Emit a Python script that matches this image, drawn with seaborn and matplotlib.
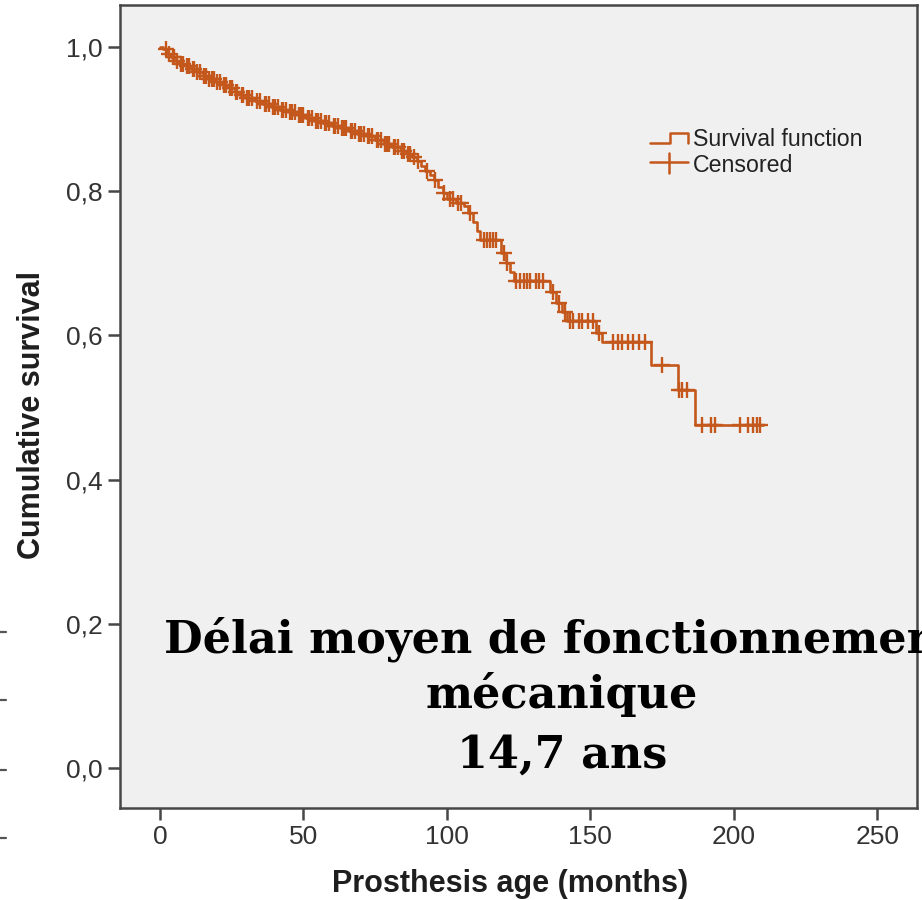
import numpy as np
import pandas as pd
import matplotlib
matplotlib.use("Agg")
import matplotlib.pyplot as plt
from matplotlib.lines import Line2D
import seaborn as sns

# Kaplan-Meier estimate: month of each failure step and survival just after it
event_months = [1, 2.5, 4, 5.5, 7, 9, 11, 13, 15, 17,
                19.5, 22, 24, 26, 28, 30, 33, 36, 39, 42,
                45, 48, 51, 54, 57, 60, 63, 66, 69, 72,
                75, 78, 81, 84, 86, 88, 89.5, 91, 92.5, 94,
                95.5, 97, 98.5, 100, 103, 106, 107.5, 109, 110.5, 111.5,
                119, 120.5, 122, 123.5, 136, 138, 140, 142, 152, 154,
                171, 180.5, 186.5]
survival = [0.997, 0.990, 0.986, 0.981, 0.977, 0.973, 0.969, 0.965, 0.960, 0.956,
            0.952, 0.948, 0.943, 0.938, 0.933, 0.929, 0.925, 0.921, 0.917, 0.913,
            0.910, 0.906, 0.902, 0.898, 0.894, 0.890, 0.887, 0.884, 0.880, 0.876,
            0.871, 0.866, 0.861, 0.856, 0.852, 0.847, 0.842, 0.835, 0.828, 0.822,
            0.815, 0.806, 0.797, 0.789, 0.784, 0.779, 0.770, 0.757, 0.745, 0.732,
            0.715, 0.700, 0.688, 0.675, 0.660, 0.645, 0.632, 0.620, 0.603, 0.591,
            0.559, 0.524, 0.476]
last_followup = 210

# Censored prostheses (months of last follow-up)
censored_months = [2, 3, 4.5, 5, 6, 7.5, 8, 9.5, 10, 11.5, 12, 13, 14, 15.5, 16, 17,
                   18, 19, 20, 21, 22.5, 23, 24.5, 25, 26.5, 27, 28.5, 29, 30.5,
                   31, 32, 34, 35, 36.5, 37, 38, 39.5, 40, 41, 42.5, 43, 44, 45.5,
                   46, 47, 48.5, 49, 50, 51.5, 52, 53, 54.5, 55, 56, 57.5, 58, 59,
                   60.5, 61, 62, 63.5, 64, 65, 66.5, 67, 68, 69.5, 70, 71, 72.5,
                   73, 74, 75.5, 76, 77, 78.5, 79, 80, 81.5, 82, 83, 84.5, 85,
                   86.5, 87, 88.5, 90, 93, 96, 99, 101, 102, 104, 105, 108, 113,
                   114, 115, 116, 117, 120, 121, 124, 125.5, 127, 128, 129, 131,
                   132, 133.5, 137, 139, 141, 143, 144, 146, 147, 149, 151, 153,
                   158, 159.5, 161, 163, 165, 167, 169, 175, 181, 182, 183.5, 189,
                   192, 193.5, 202, 205, 206.5, 208, 209]

x_ticks = [0, 50, 100, 150, 200, 250]
y_ticks = [0.0, 0.2, 0.4, 0.6, 0.8, 1.0]

CURVE = "#c4581c"
AXIS = "#474747"

sns.set_style("ticks")
plt.rcParams["font.family"] = ["Liberation Sans", "DejaVu Sans"]

curve = pd.DataFrame({
    "months": [0] + event_months + [last_followup],
    "survival": [1.0] + survival + [survival[-1]],
})
step_idx = np.searchsorted(curve["months"].to_numpy(), censored_months, side="right") - 1
cens = pd.DataFrame({
    "months": censored_months,
    "survival": curve["survival"].to_numpy()[step_idx],
})

W, H = 922, 900
fig = plt.figure(figsize=(W / 100, H / 100), dpi=100)
fig.patch.set_facecolor("white")


def fx(px):
    return px / W


def fy(py):
    return 1 - py / H


ax = fig.add_axes([fx(120), fy(808), fx(917) - fx(120), fy(5) - fy(808)])
ax.set_facecolor("#f0f0f0")

sns.lineplot(data=curve, x="months", y="survival", drawstyle="steps-post",
             color=CURVE, linewidth=1.9, estimator=None, sort=False, ax=ax)
sns.scatterplot(data=cens, x="months", y="survival", marker="+", s=140,
                linewidth=1.7, color=CURVE, ax=ax, zorder=3)

ax.set_xlim(-13.9, 263.8)
ax.set_ylim(-0.0555, 1.0583)
ax.set_xticks(x_ticks)
ax.set_xticklabels([str(v) for v in x_ticks])
ax.set_yticks(y_ticks)
ax.set_yticklabels([f"{v:.1f}".replace(".", ",") for v in y_ticks])

for side in ["left", "right", "top", "bottom"]:
    ax.spines[side].set_visible(True)
    ax.spines[side].set_color(AXIS)
    ax.spines[side].set_linewidth(1.8)
ax.tick_params(axis="both", direction="out", length=8.5, width=1.8, color=AXIS,
               labelsize=19, labelcolor="#333333", pad=4,
               top=False, right=False)

ax.set_xlabel("Prosthesis age (months)", fontsize=22, fontweight="bold", color="#1e1e1e")
ax.set_ylabel("Cumulative survival", fontsize=22, fontweight="bold", color="#1e1e1e")
ax.xaxis.set_label_coords((510 - 120) / 797, (808 - 884) / 803)
ax.xaxis.label.set_va("center")
ax.yaxis.set_label_coords((32 - 120) / 797, (808 - 415) / 803)
ax.yaxis.label.set_va("center")

# Legend drawn by hand: step icon for the survival function, cross for censoring
def fig_line(xs, ys, **kw):
    fig.add_artist(Line2D([fx(v) for v in xs], [fy(v) for v in ys],
                          transform=fig.transFigure, **kw))


fig_line([650, 670, 670, 688, 688], [142.5, 142.5, 132.5, 132.5, 143],
         color=CURVE, linewidth=1.8)
fig_line([650, 688], [162, 162], color=CURVE, linewidth=1.8)
fig_line([669, 669], [153, 173], color=CURVE, linewidth=1.8)
fig.text(fx(693), fy(146), "Survival function", fontsize=16.7, color="#222222",
         va="baseline", ha="left")
fig.text(fx(693), fy(172.5), "Censored", fontsize=16.7, color="#222222",
         va="baseline", ha="left")

# Small tick stubs on the far left edge
for py in [632, 700, 770, 838]:
    fig_line([0, 6], [py, py], color="#555555", linewidth=1.6)

# Mean mechanical lifetime annotation
serif = ["DejaVu Serif"]
for text, base in [("Délai moyen de fonctionnement", 652),
                   ("mécanique", 708),
                   ("14,7 ans", 768)]:
    fig.text(fx(562), fy(base), text, fontsize=32, fontweight="bold",
             family=serif, color="black", ha="center", va="baseline")

fig.savefig("out.png", dpi=100)
